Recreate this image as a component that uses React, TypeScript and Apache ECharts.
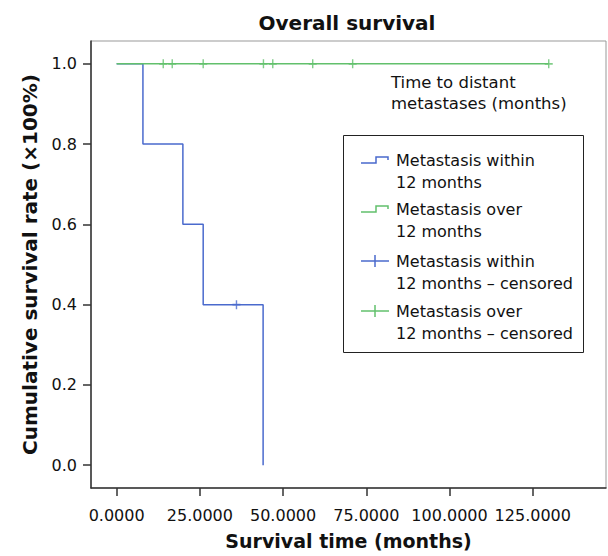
import React, { useEffect, useRef } from "react";
import * as echarts from "echarts";

const xTicks = [0, 25, 50, 75, 100, 125];
const yTicks = [0, 0.2, 0.4, 0.6, 0.8, 1.0];

// Kaplan-Meier step points (time, survival)
const withinTimes = [0, 7.9, 19.9, 26.0, 44.0, 44.0];
const withinSurv = [1.0, 0.8, 0.6, 0.4, 0.0, 0.0];
const overTimes = [0, 129.8];
const overSurv = [1.0, 1.0];

const withinCensoredTimes = [36.0];
const withinCensoredSurv = [0.4];
const overCensoredTimes = [14.0, 16.7, 26.0, 44.1, 46.9, 58.9, 70.9, 129.8];
const overCensoredSurv = [1, 1, 1, 1, 1, 1, 1, 1];

const legendLabels = [
  ["Metastasis within", "12 months"],
  ["Metastasis over", "12 months"],
  ["Metastasis within", "12 months – censored"],
  ["Metastasis over", "12 months – censored"],
];

const BLUE = "#4a6acd";
const GREEN = "#62c06c";
const FONT = "DejaVu Sans, Liberation Sans, Arial, sans-serif";

export default function App() {
  const ref = useRef<HTMLDivElement>(null);
  useEffect(() => {
    const chart = echarts.init(ref.current!, null, { renderer: "svg" });
    const zip = (a: number[], b: number[]) => a.map((v, i) => [v, b[i]]);
    const plus = "path://M0,5L10,5M5,0L5,10";

    const legendGraphics: any[] = [
      {
        type: "rect",
        shape: { x: 343.5, y: 135.5, width: 240, height: 217 },
        style: { fill: "#fff", stroke: "#222", lineWidth: 1 },
        z: 100,
      },
    ];
    const rowY = [160, 209, 261, 311];
    legendLabels.forEach((lines, i) => {
      const y = rowY[i];
      const col = i % 2 === 0 ? BLUE : GREEN;
      if (i < 2) {
        legendGraphics.push({
          type: "polyline",
          shape: { points: [[361, y + 3], [376, y + 3], [376, y - 3], [388, y - 3], [388, y]] },
          style: { stroke: col, lineWidth: 1.5, fill: null },
          z: 101,
        });
      } else {
        legendGraphics.push(
          { type: "line", shape: { x1: 361, y1: y, x2: 389, y2: y }, style: { stroke: col, lineWidth: 1.5 }, z: 101 },
          { type: "line", shape: { x1: 375, y1: y - 6, x2: 375, y2: y + 6 }, style: { stroke: col, lineWidth: 1.5 }, z: 101 }
        );
      }
      legendGraphics.push({
        type: "text",
        x: 396,
        y: y - 10,
        style: { text: lines.join("\n"), font: `16px ${FONT}`, fill: "#111", lineHeight: 21.5 },
        z: 101,
      });
    });

    chart.setOption({
      animation: false,
      title: {
        text: "Overall survival",
        left: 342,
        textAlign: "center",
        top: 8,
        textStyle: { fontFamily: FONT, fontSize: 20, fontWeight: "bold", color: "#111" },
      },
      grid: {
        left: 91,
        top: 41,
        right: 2,
        bottom: 68,
        show: true,
        borderColor: "#999",
        borderWidth: 1,
        backgroundColor: "#fff",
      },
      xAxis: {
        type: "value",
        min: -7.7,
        max: 147,
        name: "Survival time (months)",
        nameLocation: "middle",
        nameGap: 43,
        nameTextStyle: { fontFamily: FONT, fontSize: 19, fontWeight: "bold", color: "#111" },
        axisLine: { show: true, onZero: false, lineStyle: { color: "#333", width: 1.5 } },
        axisTick: { show: true, length: 8, customValues: xTicks, lineStyle: { color: "#333", width: 1.5 } },
        axisLabel: {
          customValues: xTicks,
          margin: 19,
          fontFamily: FONT,
          fontSize: 16,
          color: "#111",
          formatter: (v: number) => v.toFixed(4),
        },
        splitLine: { show: false },
      },
      yAxis: {
        type: "value",
        min: -0.057,
        max: 1.057,
        name: "Cumulative survival rate (×100%)",
        nameLocation: "middle",
        nameGap: 51,
        nameRotate: 90,
        nameTextStyle: { fontFamily: FONT, fontSize: 20, fontWeight: "bold", color: "#111" },
        axisLine: { show: true, onZero: false, lineStyle: { color: "#333", width: 1.5 } },
        axisTick: { show: true, length: 8, customValues: yTicks, lineStyle: { color: "#333", width: 1.5 } },
        axisLabel: {
          customValues: yTicks,
          margin: 14,
          fontFamily: FONT,
          fontSize: 16,
          color: "#111",
          formatter: (v: number) => v.toFixed(1),
        },
        splitLine: { show: false },
      },
      graphic: [
        {
          type: "text",
          x: 391,
          y: 72,
          style: {
            text: "Time to distant\nmetastases (months)",
            font: `16.5px ${FONT}`,
            fill: "#111",
            lineHeight: 21,
          },
          z: 50,
        },
        ...legendGraphics,
      ],
      series: [
        {
          type: "line",
          step: "end",
          data: zip(withinTimes, withinSurv),
          showSymbol: false,
          lineStyle: { color: BLUE, width: 1.5 },
          z: 2,
        },
        {
          type: "line",
          data: zip(overTimes, overSurv),
          showSymbol: false,
          lineStyle: { color: GREEN, width: 1.5 },
          z: 3,
        },
        {
          type: "scatter",
          data: zip(withinCensoredTimes, withinCensoredSurv),
          symbol: plus,
          symbolSize: [8, 9],
          itemStyle: { color: "none", borderColor: BLUE, borderWidth: 1.5 },
          z: 4,
        },
        {
          type: "scatter",
          data: zip(overCensoredTimes, overCensoredSurv),
          symbol: plus,
          symbolSize: [8, 9],
          itemStyle: { color: "none", borderColor: GREEN, borderWidth: 1.5 },
          z: 4,
        },
      ],
    });
    return () => chart.dispose();
  }, []);
  return (
    <div
      ref={ref}
      style={{ position: "fixed", left: 0, top: 0, width: 608, height: 556, background: "#fff" }}
    />
  );
}
